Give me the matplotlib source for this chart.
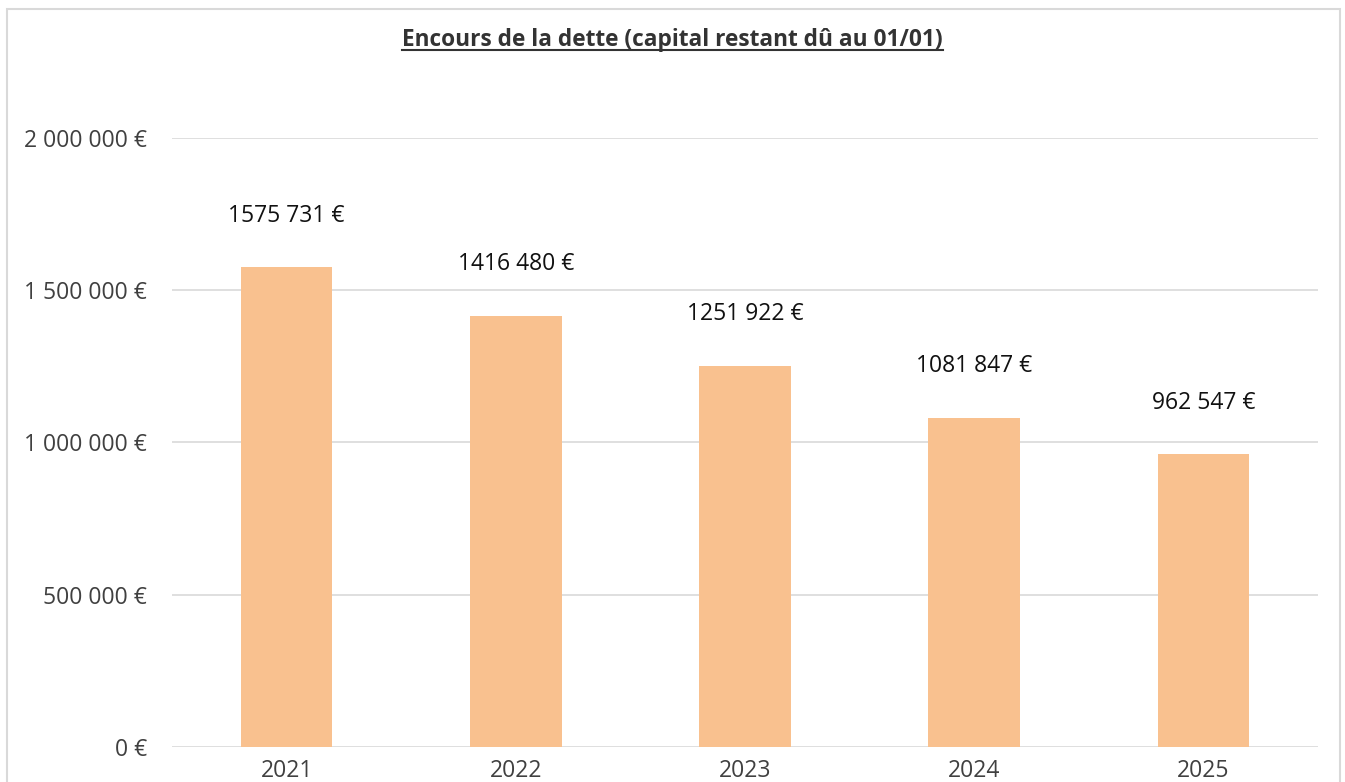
import matplotlib.pyplot as plt
from matplotlib.patches import Rectangle
from matplotlib.lines import Line2D
from matplotlib.ticker import FuncFormatter

annees = ["2021", "2022", "2023", "2024", "2025"]
encours = [1575731, 1416480, 1251922, 1081847, 962547]
graduations = [0, 500000, 1000000, 1500000, 2000000]
titre = "Encours de la dette (capital restant dû au 01/01)"


def euros(v, pos=None):
    """Format français : espace entre milliers, puis le symbole euro"""
    return f"{int(v):,}".replace(",", " ") + " €"


def etiquette(v):
    # Excel collait le premier chiffre au groupe suivant pour les millions
    s = f"{int(v):,}".replace(",", " ")
    if v >= 1000000:
        s = s.replace(" ", "", 1)
    return s + " €"


plt.rcParams['font.family'] = ['Open Sans', 'DejaVu Sans']

fig = plt.figure(figsize=(13.45, 7.82), dpi=100)
ax = fig.add_axes([0.1279, 0.0448, 0.8521, 0.7787])

x = range(len(annees))
barres = ax.bar(x, encours, width=0.4, color="#F9C18F", zorder=2)

for i, v in enumerate(encours):
    ax.annotate(etiquette(v), (i, v), xytext=(0, 37), textcoords="offset points",
                ha="center", va="center", fontsize=16.5, color="#111111")

ax.set_xlim(-0.5, len(annees) - 0.5)
ax.set_ylim(0, 2000000)
ax.set_xticks(list(x))
ax.set_xticklabels(annees)
ax.set_yticks(graduations)
ax.yaxis.set_major_formatter(FuncFormatter(euros))
ax.tick_params(axis="both", length=0, labelsize=16.5, colors="#404040")
ax.tick_params(axis="y", pad=18)
ax.tick_params(axis="x", pad=9)
ax.grid(axis="y", color="#D9D9D9", linewidth=1.2, zorder=0)
for s in ax.spines.values():
    s.set_visible(False)

# cadre gris autour du graphique
fig.patches.append(Rectangle((7 / 1345, -0.02), 1333 / 1345, 0.9885 + 0.02,
                             transform=fig.transFigure, fill=False,
                             edgecolor="#D9D9D9", linewidth=1.5))

t = fig.text(0.5, 1 - 40 / 782, titre, ha="center", va="center",
             fontsize=16.3, fontweight="bold", color="#333333")
fig.canvas.draw()
bb = t.get_window_extent().transformed(fig.transFigure.inverted())
fig.add_artist(Line2D([bb.x0, bb.x1], [bb.y0 + 0.002, bb.y0 + 0.002],
                      transform=fig.transFigure, color="#333333", linewidth=1.5))

fig.savefig("out.png", dpi=100)
